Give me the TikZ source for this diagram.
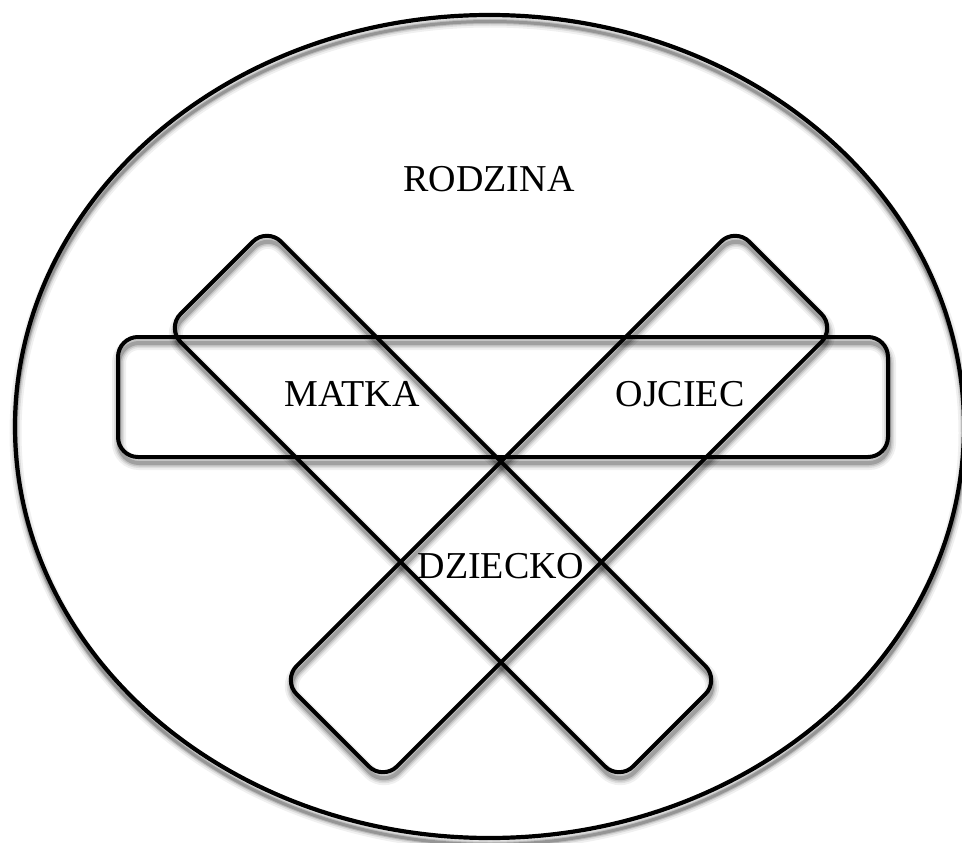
\documentclass[tikz,border=0pt]{standalone}
\usepackage{fontspec}
\setmainfont{Liberation Serif}
\newcommand{\rbox}[6]{%
  \begin{scope}[shift={(#1,#2)},rotate=#5]
    \draw[#6,rounded corners=20pt] (-#3/2,-#4/2) rectangle (#3/2,#4/2);
  \end{scope}}
\newcommand{\rboxshadow}[5]{%
  \foreach \w/\o in {14/0.06,10/0.08,7/0.11,4/0.18}{%
    \rbox{#1+1}{#2+6}{#3}{#4}{#5}{draw=black,opacity=\o,line width=\w pt}}}
\begin{document}
\begin{tikzpicture}[x=1pt,y=-1pt,
  outline/.style={draw=black,line width=4pt},
  txt/.style={font=\fontsize{38}{45}\selectfont,inner sep=0pt,text=black}]
\fill[white] (0,0) rectangle (962,843);
\useasboundingbox (0,0) rectangle (962,843);
% ellipse shadow
\foreach \w/\o in {12/0.06,8/0.09,5/0.14,3/0.2}{%
  \draw[black,opacity=\o,line width=\w pt] (490,433) ellipse [x radius=474.5, y radius=411.5];}
\draw[black,line width=4.2pt] (489.5,426.5) ellipse [x radius=474.5, y radius=411.5];
% shadows of the bands
\rboxshadow{503}{397}{770}{120}{0}
\rboxshadow{443}{504}{640}{142}{-45}
\rboxshadow{559}{504}{640}{142}{45}
% bands
\rbox{503}{397}{770}{120}{0}{outline}
\rbox{443}{504}{640}{142}{-45}{outline}
\rbox{559}{504}{640}{142}{45}{outline}
% texts
\node[txt] (rodzina) at (489,179) {RODZINA};
\node[txt] (matka) at (352,394) {MATKA};
\node[txt] (ojciec) at (680,394) {OJCIEC};
\node[txt] (dziecko) at (501,566) {DZIECKO};
\end{tikzpicture}
\end{document}
